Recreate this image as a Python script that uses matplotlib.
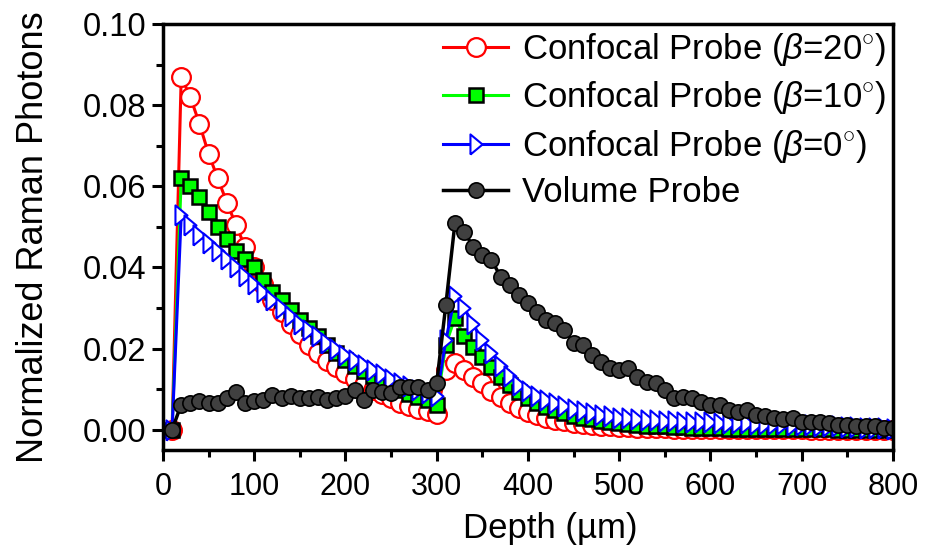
import matplotlib
matplotlib.use('Agg')
import matplotlib.pyplot as plt
import numpy as np

plt.rcParams['font.family'] = ['Liberation Sans', 'DejaVu Sans']
plt.rcParams['mathtext.fontset'] = 'custom'
plt.rcParams['mathtext.rm'] = 'Liberation Sans'
plt.rcParams['mathtext.it'] = 'Liberation Sans:italic'

depth = np.arange(10, 810, 10)

conf20 = [0, .087, .082, .0754, .068, .062, .056, .0505, .045, .040,
          .036, .032, .029, .026, .0235, .021, .019, .017, .0155, .014,
          .0125, .011, .0098, .0087, .0077, .0066, .0058, .005, .0045, .004,
          .0148, .0165, .0148, .013, .0115, .0095, .008, .0065, .0053, .0044,
          .0037, .003, .0025, .0021, .0017, .0014, .0012, .001, .0008, .0007,
          .0006, .0005, .0005, .0004, .0004, .0003, .0003, .0003, .0002, .0002,
          .0002, .0002, .0001, .0001, .0001, .0001, .0001, .0001, .0001, .0001,
          0, 0, 0, 0, 0, 0, 0, 0, 0, 0]

conf10 = [0, .062, .060, .0574, .0537, .050, .047, .044, .042, .040,
          .037, .034, .032, .0295, .027, .025, .023, .021, .019, .0172,
          .0158, .0145, .0132, .012, .011, .0098, .0088, .008, .0074, .0062,
          .021, .0276, .023, .0204, .018, .0155, .013, .011, .0092, .0078,
          .0066, .0056, .0048, .0041, .0035, .003, .0026, .0022, .0019, .0016,
          .0014, .0012, .001, .0009, .0008, .0007, .0006, .0005, .0005, .0004,
          .0004, .0003, .0003, .0003, .0002, .0002, .0002, .0002, .0001, .0001,
          .0001, .0001, .0001, 0, 0, 0, 0, 0, 0, 0]

conf0 = [0, .053, .0505, .048, .046, .044, .042, .040, .038, .036,
         .034, .032, .030, .028, .026, .0245, .023, .0215, .020, .0185,
         .0172, .016, .0148, .0137, .0126, .0116, .0107, .0098, .009, .0082,
         .022, .033, .030, .026, .022, .019, .0158, .0132, .011, .0095,
         .0083, .0073, .0065, .0058, .0052, .0046, .0041, .0037, .0033, .003,
         .0028, .0026, .0024, .0023, .0022, .0021, .002, .0019, .0019, .0018,
         .0017, .0017, .0016, .0016, .0015, .0014, .0014, .0013, .0012, .0012,
         .0011, .001, .0009, .0008, .0007, .0006, .0005, .0004, .0004, .0003]

volume = [0, .0062, .0067, .0072, .0067, .0066, .0079, .0092, .0067, .007,
          .0074, .0086, .0079, .0083, .0079, .0079, .0081, .0074, .0078, .0082,
          .0099, .0074, .0099, .0094, .0091, .0106, .0106, .0106, .0099, .0115,
          .0308, .051, .0488, .0451, .0431, .0419, .0377, .0357, .0332, .0313,
          .029, .027, .0263, .0246, .0214, .0209, .0185, .0167, .0153, .0148,
          .0153, .013, .0118, .0116, .0099, .0079, .0081, .0079, .0069, .0062,
          .0062, .0049, .0044, .0049, .0037, .0035, .003, .0026, .003, .002,
          .002, .002, .0016, .0012, .0012, .0008, .0008, .0008, .0004, .0004]

labels = [r'Confocal Probe ($\beta$=20$^{\circ}$)',
          r'Confocal Probe ($\beta$=10$^{\circ}$)',
          r'Confocal Probe ($\beta$=0$^{\circ}$)',
          'Volume Probe']

# narrow right-pointing triangle
tri = [(-0.6, -1), (0.6, 0), (-0.6, 1), (-0.6, -1)]

fig = plt.figure(figsize=(9.27, 5.58), dpi=100)
ax = fig.add_axes([0.1758, 0.1935, 0.7875, 0.7635])

ax.plot(depth, conf20, color='red', lw=2.2, marker='o', ms=13.5,
        mfc='white', mec='red', mew=1.6, label=labels[0])
ax.plot(depth, conf10, color='#00ff00', lw=2.2, marker='s', ms=9.5,
        mfc='#00ff00', mec='black', mew=1.8, label=labels[1])
ax.plot(depth, conf0, color='blue', lw=2.2, marker=tri, ms=14.5,
        mfc='white', mec='blue', mew=1.5, label=labels[2])
ax.plot(depth, volume, color='black', lw=2.5, marker='o', ms=11,
        mfc='#404040', mec='black', mew=1.2, label=labels[3])

ax.set_xlim(0, 800)
ax.set_ylim(-0.005, 0.10)
ax.set_xticks(np.arange(0, 801, 100))
ax.set_xticks(np.arange(50, 800, 100), minor=True)
ax.set_yticks(np.arange(0, 0.101, 0.02))
ax.set_yticks(np.arange(0.01, 0.1, 0.02), minor=True)
ax.yaxis.set_major_formatter(matplotlib.ticker.FormatStrFormatter('%.2f'))

for s in ax.spines.values():
    s.set_linewidth(2.5)
ax.tick_params(which='major', direction='out', length=8, width=2.2, pad=4)
ax.tick_params(which='minor', direction='out', length=5, width=2.2)
ax.tick_params(axis='x', which='major', labelsize=22, pad=8)
ax.tick_params(axis='y', which='major', labelsize=23.5)

ax.set_xlabel('Depth (µm)', fontsize=25)
ax.xaxis.set_label_coords(0.53, -0.145)
ax.set_ylabel('Normalized Raman Photons', fontsize=26, labelpad=23)

ax.legend(loc='upper right', frameon=False, fontsize=25, handlelength=1.85,
          handletextpad=0.4, labelspacing=0.33, borderaxespad=0.0,
          borderpad=0.2, bbox_to_anchor=(1.0, 1.0))

fig.savefig('out.png', dpi=100)
